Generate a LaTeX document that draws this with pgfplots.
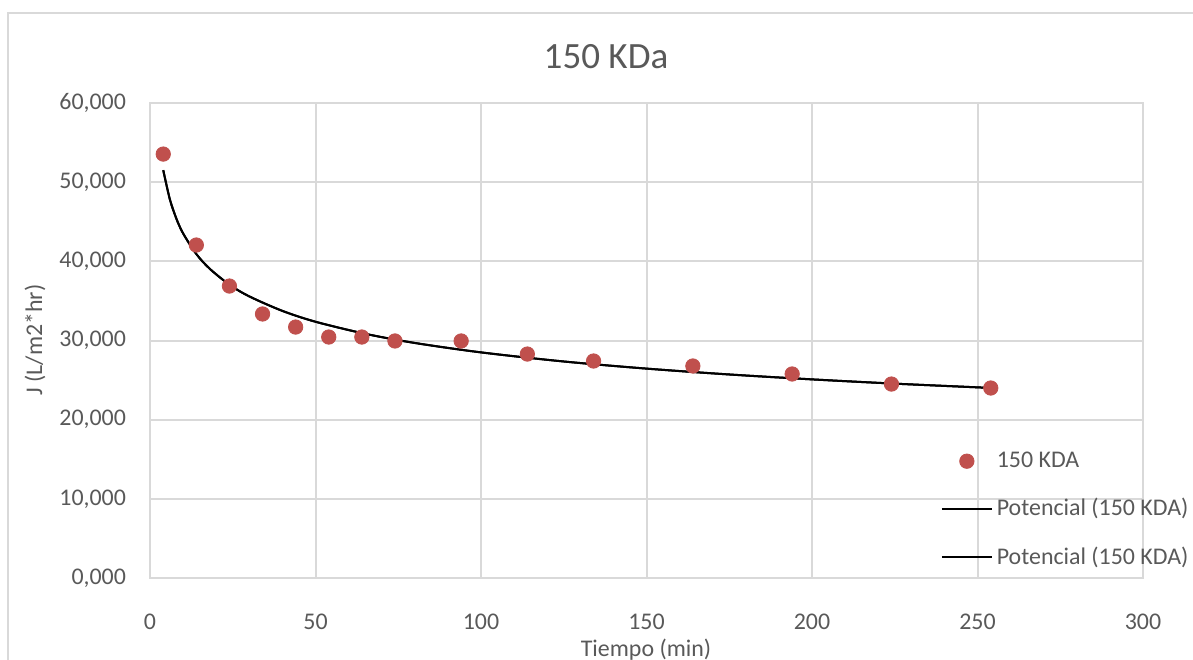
\documentclass[border=0pt]{standalone}
\usepackage{pgfplots}
\pgfplotsset{compat=1.18}
\usepackage{fontspec}
\setmainfont{Carlito}
\definecolor{exred}{HTML}{C0504D}
\definecolor{gridc}{HTML}{D9D9D9}
\definecolor{axc}{HTML}{BFBFBF}
\definecolor{txt}{HTML}{595959}
\pgfplotsset{
  linelegend/.style={legend image code/.code={\draw[##1] (0bp,0bp) -- (25bp,0bp);}},
  dotlegend/.style={legend image code/.code={\draw[##1] plot coordinates {(12.5bp,0bp)};}},
}
\begin{document}
\begin{tikzpicture}[x=1bp,y=1bp]
\useasboundingbox (0,0) rectangle (596.5,329.5);
\begin{scope}
\clip (0,0) rectangle (596.5,329.5);
\fill[white] (0,0) rectangle (596.5,329.5);
\draw[gridc, line width=1bp] (4,-5) -- (4,323) -- (600,323);
\node[txt, font=\fontsize{18.6}{22}\selectfont] at (303,301) {150 KDa};
\node[txt, font=\fontsize{12}{14}\selectfont, rotate=90] at (17.5,159.5) {J (L/m2*hr)};
\node[txt, font=\fontsize{12}{14}\selectfont] at (323,4.5) {Tiempo (min)};
\begin{axis}[
  at={(75bp,40.5bp)}, anchor=south west,
  scale only axis, width=496.5bp, height=237.5bp,
  xmin=0, xmax=300, ymin=0, ymax=60,
  xtick={0,50,...,300}, ytick={0,10,...,60},
  major tick length=0pt,
  grid=major, grid style={gridc, line width=1bp},
  axis line style={gridc, line width=1bp},
  tick label style={txt, font=\fontsize{12}{14}\selectfont},
  /pgf/number format/assume math mode=true,
  yticklabel={\pgfmathprintnumber[fixed,precision=3,zerofill,use comma,1000 sep={}]{\tick}},
  xticklabel={\pgfmathprintnumber[fixed,precision=0,1000 sep={}]{\tick}},
  xticklabel style={yshift=-14.5bp},
  yticklabel style={xshift=-8.5bp},
  legend style={at={(0.79,0.283)}, anchor=north west, draw=none, fill=none,
    font=\fontsize{12}{14}\selectfont, text=txt, row sep=10bp,
    legend cell align=left},
  clip=false,
]
\addplot[only marks, mark=*, mark size=3.6bp, color=exred, mark options={draw=exred, fill=exred}, dotlegend]
coordinates {
(4,53.55) (14,42.06) (24,36.88) (34,33.35) (44,31.70) (54,30.44) (64,30.44)
(74,29.94) (94,29.94) (114,28.29) (134,27.41) (164,26.78) (194,25.77)
(224,24.50) (254,24.00)
};
\addlegendentry{150 KDA}
\addplot[black, line width=1bp, smooth, no marks, linelegend] coordinates {
(4,51.52) (6,47.83) (8,45.36) (10,43.53) (14,40.92) (18,39.08) (24,37.05)
(30,35.57) (40,33.74) (50,32.37) (65,30.85) (80,29.69) (100,28.50)
(125,27.35) (150,26.45) (175,25.71) (200,25.09) (225,24.55) (254,24.01)
};
\addlegendentry{Potencial (150 KDA)}
\addplot[black, line width=1bp, smooth, no marks, linelegend] coordinates {
(4,51.52) (6,47.83) (8,45.36) (10,43.53) (14,40.92) (18,39.08) (24,37.05)
(30,35.57) (40,33.74) (50,32.37) (65,30.85) (80,29.69) (100,28.50)
(125,27.35) (150,26.45) (175,25.71) (200,25.09) (225,24.55) (254,24.01)
};
\addlegendentry{Potencial (150 KDA)}
\end{axis}
\end{scope}
\end{tikzpicture}
\end{document}
